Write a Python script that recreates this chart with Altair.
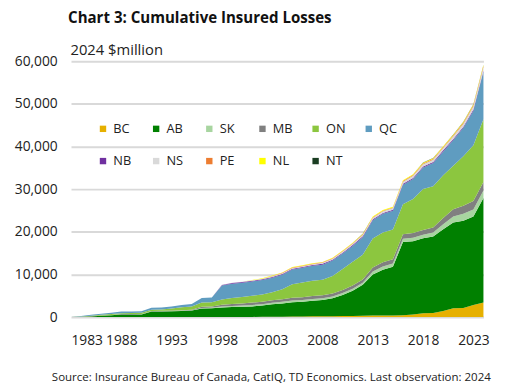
import altair as alt
import pandas as pd

years = list(range(1983, 2025))
tick_years = [1983, 1988, 1993, 1998, 2003, 2008, 2013, 2018, 2023]
y_ticks = [0, 10000, 20000, 30000, 40000, 50000, 60000]

provinces = ["BC", "AB", "SK", "MB", "ON", "QC", "NB", "NS", "PE", "NL", "NT"]
colors = ["#E6B000", "#008000", "#A8D5A0", "#808080", "#8CC63F", "#5F9CC0",
          "#7030A0", "#D9D9D9", "#ED7D31", "#FFFF00", "#1A3D22"]

# cumulative insured losses, 2024 $million, 1983..2024
BC = [0, 0, 0, 0, 0, 0, 0, 0, 0, 0,
      0, 0, 0, 0, 0, 0, 0, 0, 50, 60,
      80, 100, 150, 160, 170, 180, 200, 250, 280, 300,
      350, 380, 400, 450, 600, 900, 950, 1450, 2100, 2150,
      2850, 3400]
AB = [0, 50, 150, 300, 450, 580, 590, 620, 1300, 1330,
      1380, 1450, 1550, 2000, 2080, 2250, 2350, 2400, 2450, 2640,
      2920, 3100, 3350, 3440, 3680, 3820, 4200, 4950, 5920, 7300,
      9650, 10720, 11400, 17150, 17200, 17600, 17950, 19150, 20100, 20450,
      20750, 24500]
SK = [0, 5, 10, 20, 30, 40, 40, 40, 50, 50,
      60, 70, 80, 150, 160, 250, 280, 300, 330, 340,
      350, 380, 400, 400, 410, 420, 450, 460, 470, 480,
      700, 750, 760, 780, 800, 820, 950, 1150, 1400, 1600,
      1650, 1800]
MB = [0, 5, 20, 30, 40, 80, 80, 80, 80, 90,
      90, 110, 110, 250, 260, 400, 470, 500, 570, 580,
      590, 620, 650, 650, 660, 680, 700, 700, 720, 750,
      900, 1000, 1000, 1050, 1100, 1100, 1150, 1500, 1700, 1900,
      1950, 2000]
ON = [0, 60, 140, 180, 200, 220, 225, 260, 280, 300,
      470, 670, 760, 1000, 1000, 1200, 1400, 1500, 1600, 1700,
      1900, 2300, 3150, 3450, 3600, 3650, 4100, 4900, 5600, 5800,
      6800, 7000, 7000, 7050, 8000, 9600, 9700, 10000, 10200, 11600,
      13100, 14700]
QC = [0, 110, 220, 230, 310, 380, 390, 400, 500, 500,
      500, 510, 580, 1070, 1080, 3300, 3330, 3350, 3360, 3380,
      3400, 3420, 3450, 3470, 3500, 3550, 3600, 3650, 3700, 4100,
      4300, 4350, 4400, 4550, 4700, 5050, 5400, 5600, 6000, 6700,
      8100, 11100]
NB = [0, 0, 0, 0, 0, 0, 0, 0, 0, 0,
      0, 0, 0, 0, 0, 150, 160, 160, 170, 170,
      180, 180, 190, 190, 190, 200, 200, 200, 210, 210,
      220, 220, 220, 230, 230, 240, 240, 240, 250, 250,
      260, 270]
NS = [0, 0, 0, 0, 0, 0, 0, 0, 0, 0,
      0, 0, 20, 30, 30, 50, 60, 80, 100, 120,
      150, 170, 180, 190, 200, 220, 240, 260, 280, 300,
      350, 380, 400, 500, 520, 550, 570, 600, 630, 680,
      750, 850]
PE = [0, 0, 0, 0, 0, 0, 0, 0, 0, 0,
      0, 0, 0, 0, 0, 0, 0, 0, 0, 0,
      60, 100, 100, 100, 100, 110, 110, 130, 130, 130,
      140, 140, 140, 150, 150, 150, 150, 160, 180, 220,
      240, 250]
NL = [0, 0, 0, 0, 0, 0, 0, 0, 0, 0,
      0, 0, 0, 0, 0, 0, 0, 0, 80, 100,
      100, 100, 100, 100, 100, 100, 100, 110, 120, 130,
      150, 150, 150, 160, 160, 170, 170, 180, 190, 200,
      210, 250]
NT = [0, 0, 0, 0, 0, 0, 0, 0, 0, 0,
      0, 0, 0, 0, 0, 0, 0, 0, 0, 0,
      0, 0, 0, 0, 0, 0, 0, 0, 20, 20,
      20, 20, 20, 30, 30, 40, 40, 40, 40, 40,
      50, 50]

series = [BC, AB, SK, MB, ON, QC, NB, NS, PE, NL, NT]
rows = []
for i, (name, vals) in enumerate(zip(provinces, series)):
    for yr, v in zip(years, vals):
        rows.append({"year": yr, "prov": name, "value": v, "ord": i})
df = pd.DataFrame(rows)

FONT = "Open Sans"

chart = alt.Chart(df).mark_area(opacity=1).encode(
    x=alt.X("year:Q",
            scale=alt.Scale(domain=[1983, 2024], nice=False, zero=False),
            axis=alt.Axis(values=tick_years, format="d", grid=False, domain=False,
                          ticks=False, labelFontSize=14, labelPadding=17,
                          labelColor="#222222", labelFont=FONT,
                          title="Source: Insurance Bureau of Canada, CatIQ, TD Economics. Last observation: 2024",
                          titleFont=FONT, titleFontSize=11.7, titleFontWeight="normal",
                          titleColor="#222222", titleAlign="right", titleX=426,
                          titleY=60, titleBaseline="middle")),
    y=alt.Y("value:Q", stack="zero",
            scale=alt.Scale(domain=[0, 60000], nice=False),
            axis=alt.Axis(values=y_ticks, format=",.0f", domain=False, ticks=False,
                          grid=True, gridColor="#D9D9D9", gridWidth=2,
                          gridOpacity=1,
                          labelFontSize=14, labelPadding=14, labelColor="#222222",
                          labelFont=FONT,
                          title="2024 $million", titleFont=FONT, titleFontSize=15,
                          titleFontWeight="normal", titleColor="#222222",
                          titleAngle=0, titleAlign="left", titleBaseline="middle",
                          titleX=-1, titleY=-12)),
    color=alt.Color("prov:N",
                    scale=alt.Scale(domain=provinces, range=colors),
                    legend=alt.Legend(orient="none", legendX=26, legendY=62,
                                      direction="horizontal", columns=6,
                                      title=None, symbolType="square",
                                      symbolSize=42, symbolStrokeWidth=0,
                                      labelFontSize=13, labelFont=FONT,
                                      labelColor="#222222", labelOffset=4,
                                      columnPadding=16, rowPadding=19,
                                      gridAlign="all", padding=0)),
    order=alt.Order("ord:Q", sort="ascending"),
).properties(
    width=419,
    height=260,
    title=alt.TitleParams("Chart 3: Cumulative Insured Losses", anchor="start",
                          frame="group", font=FONT, fontSize=15.3,
                          fontWeight="bold", color="#111111", offset=16, dx=-3),
    padding={"left": 64, "top": 51, "right": 28, "bottom": 68},
    autosize=alt.AutoSizeParams(type="none"),
).configure_view(stroke=None)

chart.save("out.html", embed_options={"renderer": "svg", "actions": False})
